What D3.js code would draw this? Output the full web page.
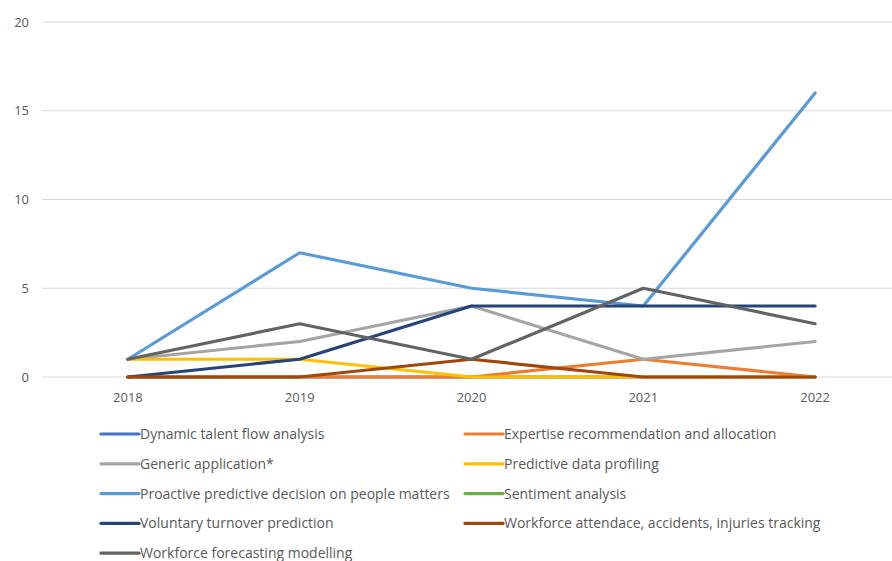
<!DOCTYPE html>
<html>
<head>
<meta charset="utf-8">
<script src="https://cdn.jsdelivr.net/npm/d3@7"></script>
<style>
  body { margin: 0; background: #fff; }
  svg { display: block; font-family: "Open Sans", "Liberation Sans", sans-serif; }
</style>
</head>
<body>
<div id="chart"></div>
<script>
"use strict";

// years on the x axis
var years = ["2018", "2019", "2020", "2021", "2022"];
var yTicks = [0, 5, 10, 15, 20];

// one array per series, same order as the legend
var seriesNames = [
  "Dynamic talent flow analysis",
  "Expertise recommendation and allocation",
  "Generic application*",
  "Predictive data profiling",
  "Proactive predictive decision on people matters",
  "Sentiment analysis",
  "Voluntary turnover prediction",
  "Workforce attendace, accidents, injuries tracking",
  "Workforce forecasting modelling"
];
var dynamicTalent   = [0, 0, 0, 0, 0];
var expertise       = [0, 0, 0, 1, 0];
var generic         = [1, 2, 4, 1, 2];
var profiling       = [1, 1, 0, 0, 0];
var proactive       = [1, 7, 5, 4, 16];
var sentiment       = [null, null, null, null, null]; // no visible line in the picture
var turnover        = [0, 1, 4, 4, 4];
var attendance      = [0, 0, 1, 0, 0];
var forecasting     = [1, 3, 1, 5, 3];
var seriesValues = [dynamicTalent, expertise, generic, profiling, proactive,
                    sentiment, turnover, attendance, forecasting];
var colors = ["#4472c4", "#ed7d31", "#a5a5a5", "#ffc000", "#5b9bd5",
              "#70ad47", "#264478", "#9e480e", "#636363"];

var larg = 892, haut = 561;

var svg = d3.select("#chart")
  .append("svg")
  .attr("width", larg)
  .attr("height", haut);

// plot area (runs a bit past the right edge, as in the picture)
var x = d3.scaleBand().domain(years).range([42, 901]);
var y = d3.scaleLinear().domain([0, 20]).range([377, 22]);

// gridlines
svg.append("g")
  .selectAll("line")
  .data(yTicks)
  .enter()
  .append("line")
  .attr("x1", 42)
  .attr("x2", larg)
  .attr("y1", function(d){ return y(d); })
  .attr("y2", function(d){ return y(d); })
  .attr("stroke", "#d9d9d9")
  .attr("stroke-width", 1);

// y labels
svg.append("g")
  .selectAll("text")
  .data(yTicks)
  .enter()
  .append("text")
  .attr("x", 29)
  .attr("y", function(d){ return y(d); })
  .attr("dy", "0.35em")
  .attr("text-anchor", "end")
  .attr("font-size", "13px")
  .attr("fill", "#595959")
  .text(function(d){ return d; });

// x labels
svg.append("g")
  .selectAll("text")
  .data(years)
  .enter()
  .append("text")
  .attr("x", function(d){ return x(d) + x.bandwidth() / 2; })
  .attr("y", 402)
  .attr("text-anchor", "middle")
  .attr("font-size", "13px")
  .attr("fill", "#595959")
  .text(function(d){ return d; });

// lines
var line = d3.line()
  .defined(function(d){ return d !== null; })
  .x(function(d, i){ return x(years[i]) + x.bandwidth() / 2; })
  .y(function(d){ return y(d); });

svg.append("g")
  .selectAll("path")
  .data(seriesValues)
  .enter()
  .append("path")
  .attr("d", line)
  .attr("fill", "none")
  .attr("stroke", function(d, i){ return colors[i]; })
  .attr("stroke-width", 3.2)
  .attr("stroke-linejoin", "round")
  .attr("stroke-linecap", "round");

// legend, two columns
var legend = svg.append("g")
  .selectAll("g")
  .data(seriesNames)
  .enter()
  .append("g")
  .attr("transform", function(d, i){
    var col = i % 2, row = Math.floor(i / 2);
    return "translate(" + (col === 0 ? 101 : 465) + "," + (434 + row * 29.8) + ")";
  });

legend.append("line")
  .attr("x1", 0)
  .attr("x2", 38)
  .attr("stroke", function(d, i){ return colors[i]; })
  .attr("stroke-width", 3.2)
  .attr("stroke-linecap", "round");

legend.append("text")
  .attr("x", 39)
  .attr("dy", "0.35em")
  .attr("font-size", "14px")
  .attr("fill", "#595959")
  .text(function(d){ return d; });
</script>
</body>
</html>
